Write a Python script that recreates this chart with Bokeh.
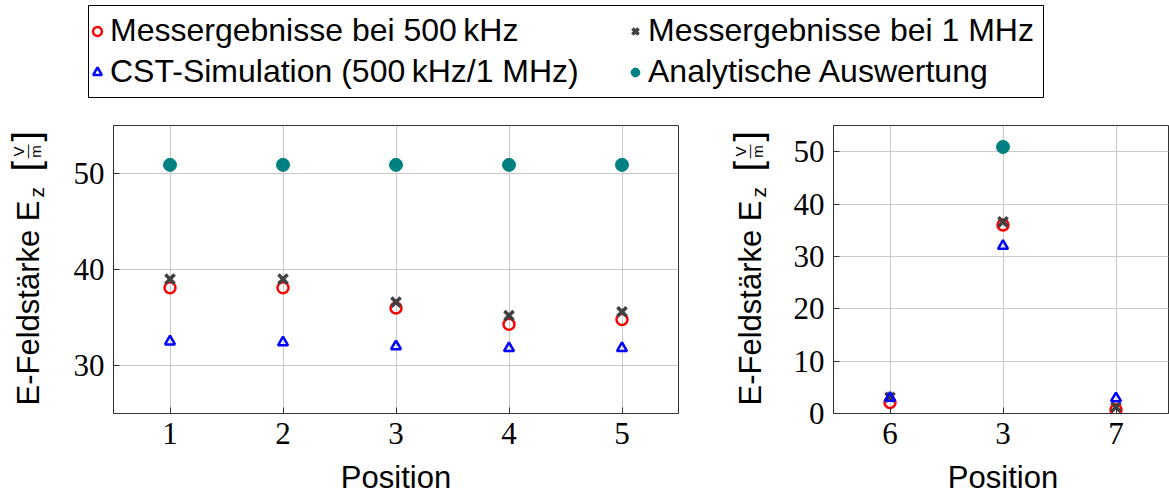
import math
from bokeh.plotting import figure
from bokeh.models import Range1d, FixedTicker, Legend, LegendItem
from bokeh.core.properties import value
from bokeh.layouts import column, row
from bokeh.embed import file_html
from bokeh.resources import INLINE

# ---------------- data ----------------
left_positions = [1, 2, 3, 4, 5]
left_tick_labels = ["1", "2", "3", "4", "5"]
left_500khz = [38.1, 38.1, 36.0, 34.3, 34.8]
left_1mhz = [39.0, 39.0, 36.6, 35.2, 35.6]
left_cst = [32.5, 32.4, 32.0, 31.8, 31.8]
left_analytic = [50.9, 50.9, 50.9, 50.9, 50.9]

right_positions = [1, 2, 3]
right_tick_labels = ["6", "3", "7"]
right_500khz = [2.1, 36.0, 0.7]
right_1mhz = [3.1, 36.6, 1.2]
right_cst = [3.0, 32.0, 2.9]
right_analytic = [float("nan"), 50.9, float("nan")]

left_yticks = [30, 40, 50]
right_yticks = [0, 10, 20, 30, 40, 50]

series_names = ["Messergebnisse bei 500\u2009kHz", "Messergebnisse bei 1 MHz",
                "CST-Simulation (500\u2009kHz/1 MHz)", "Analytische Auswertung"]
x_title = "Position"
y_title_main = "E-Feldstärke E"
y_title_sub = "z"
y_unit_num = "V"
y_unit_den = "m"

RED = "#ff0000"
GRAY = "#404040"
BLUE = "#0000ff"
TEAL = "#008080"
SANS = "Liberation Sans"
SERIF = "Liberation Serif"


def blank_fig(w, h, top=0, bottom=0):
    # pixel-scaled strip: data units equal pixels measured from the strip's bottom-left
    f = figure(width=w, height=h, x_range=Range1d(0, w), y_range=Range1d(bottom, h - top),
               output_backend="svg", toolbar_location=None,
               x_axis_location=None, y_axis_location=None,
               min_border_left=0, min_border_right=0, min_border_top=top,
               min_border_bottom=bottom,
               border_fill_color="white", background_fill_color="white")
    f.grid.visible = False
    f.outline_line_color = None
    return f


def draw_series(p, xs, s500, s1m, scst, sana):
    r1 = p.scatter(xs, s500, marker="circle", size=11, fill_color=None,
                   line_color=RED, line_width=2.5)
    r2 = p.scatter(xs, s1m, marker="x", size=13, line_color=GRAY, line_width=3.5)
    r3 = p.scatter(xs, scst, marker="triangle", size=10, fill_color=None,
                   line_color=BLUE, line_width=2.5)
    r4 = p.scatter(xs, sana, marker="circle", size=13, fill_color=TEAL,
                   line_color=TEAL)
    return [r1, r2, r3, r4]


def style_axes(p, xticks, xlabels, yticks):
    p.xaxis.ticker = FixedTicker(ticks=xticks)
    p.xaxis.major_label_overrides = {t: l for t, l in zip(xticks, xlabels)}
    p.yaxis.ticker = FixedTicker(ticks=yticks)
    p.xgrid.ticker = FixedTicker(ticks=xticks)
    p.ygrid.ticker = FixedTicker(ticks=yticks)
    for ax in p.axis:
        ax.major_label_text_font = SERIF
        ax.major_label_text_font_size = "31px"
        ax.major_label_text_color = "black"
        ax.major_tick_in = 6
        ax.major_tick_out = 0
        ax.minor_tick_in = 0
        ax.minor_tick_out = 0
        ax.major_tick_line_color = "#333333"
        ax.axis_line_color = "#333333"
        ax.major_label_standoff = 9
    p.grid.grid_line_color = "#c8c8c8"
    p.grid.grid_line_width = 1
    p.outline_line_color = "#333333"
    p.outline_line_width = 1


def shift(size):
    # the anchor of the text sits about 0.35 em above its baseline
    return 0.3465 * size


def put_vtext(f, base_x, y, txt, size, align="left"):
    f.text(x=[base_x - shift(size)], y=[y], text=[txt], angle=math.pi / 2,
           text_font=value(SANS), text_font_size=value(f"{size}px"),
           text_color="black", text_align=align, text_baseline="alphabetic")


def add_ylabel(f, bx):
    # bx: baseline x (px) of the main text inside the strip; y = px above strip bottom
    put_vtext(f, bx, 55, y_title_main, 31)
    put_vtext(f, bx + 4, 263, y_title_sub, 21)
    put_vtext(f, bx, 289, "[", 38)
    put_vtext(f, bx - 16, 309, y_unit_num, 15, align="center")
    put_vtext(f, bx - 8, 309, "\u2014", 14, align="center")
    put_vtext(f, bx + 1, 309, y_unit_den, 15, align="center")
    put_vtext(f, bx, 319, "]", 38)


# ---------------- left plot ----------------
left = figure(width=640, height=360, x_range=Range1d(0.5, 5.5), y_range=Range1d(25, 55),
              output_backend="svg", toolbar_location=None,
              min_border_left=53, min_border_right=22, min_border_top=25,
              min_border_bottom=47, background_fill_color="white",
              border_fill_color="white")
draw_series(left, left_positions, left_500khz, left_1mhz, left_cst, left_analytic)
style_axes(left, left_positions, left_tick_labels, left_yticks)

# ---------------- right plot ----------------
right = figure(width=389, height=360, x_range=Range1d(0.5, 0.5 + 335 / 113),
               y_range=Range1d(0, 55),
               output_backend="svg", toolbar_location=None,
               min_border_left=53, min_border_right=1, min_border_top=25,
               min_border_bottom=47, background_fill_color="white",
               border_fill_color="white")
draw_series(right, right_positions, right_500khz, right_1mhz, right_cst, right_analytic)
style_axes(right, right_positions, right_tick_labels, right_yticks)

# ---------------- y label strips ----------------
labL = blank_fig(60, 360, top=25, bottom=47)
add_ylabel(labL, 39)
labR = blank_fig(80, 360, top=25, bottom=47)
add_ylabel(labR, 61)

# ---------------- x title strip ----------------
bottom = blank_fig(1169, 35)
for cx in (395.5, 1002.5):
    bottom.text(x=[cx], y=[7 + shift(31)], text=[x_title], text_font=value(SANS),
                text_font_size=value("31px"), text_color="black",
                text_align="center", text_baseline="alphabetic")

# ---------------- legend strip ----------------
leg = figure(width=1169, height=100, x_range=Range1d(0, 1), y_range=Range1d(0, 1),
             output_backend="svg", toolbar_location=None,
             x_axis_location=None, y_axis_location=None,
             min_border_left=88, min_border_right=126, min_border_top=5,
             min_border_bottom=3, border_fill_color="white")
leg.grid.visible = False
leg.outline_line_color = "black"
leg.outline_line_width = 1
lr = draw_series(leg, left_positions, left_500khz, left_1mhz, left_cst, left_analytic)

legend_style = dict(label_text_font=SANS, label_text_font_size="32px",
                    label_text_color="black", glyph_width=22, glyph_height=22,
                    label_height=36, label_standoff=2, spacing=4, padding=0,
                    margin=0, border_line_color=None, background_fill_alpha=0,
                    orientation="vertical")
legA = Legend(items=[LegendItem(label=series_names[0], renderers=[lr[0]]),
                     LegendItem(label=series_names[2], renderers=[lr[2]])],
              location=(-2, 7), **legend_style)
legB = Legend(items=[LegendItem(label=series_names[1], renderers=[lr[1]]),
                     LegendItem(label=series_names[3], renderers=[lr[3]])],
              location=(536, 7), **legend_style)
leg.add_layout(legA)
leg.add_layout(legB)

layout = column(row(leg), row(labL, left, labR, right), row(bottom))
open("out.html", "w").write(file_html(layout, INLINE))
